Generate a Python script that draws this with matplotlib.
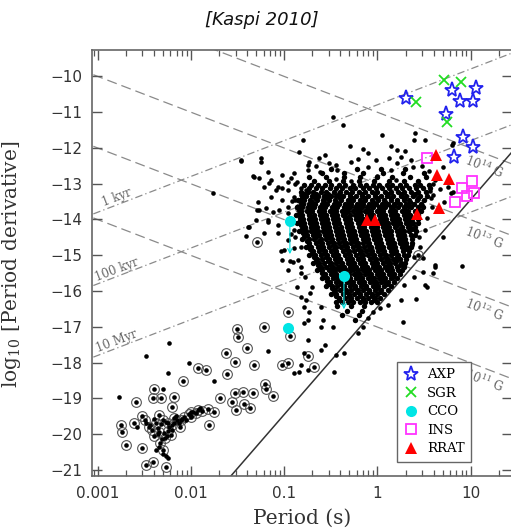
import numpy as np
import matplotlib.pyplot as plt
from matplotlib.ticker import LogLocator, NullFormatter, FixedLocator, FuncFormatter

# ---- values: log10 P [s], log10 Pdot ----
AXP_LOGP = [0.31, 0.80, 1.06, 0.89, 1.03, 0.74, 0.92, 1.02, 0.82]
AXP_LOGPDOT = [-10.61, -10.39, -10.34, -10.70, -10.70, -11.06, -11.70, -11.98, -12.26]

SGR_LOGP = [0.71, 0.90, 0.41, 0.75]
SGR_LOGPDOT = [-10.11, -10.17, -10.73, -11.28]

CCO_LOGP = [-0.94, -0.36, -0.96]
CCO_LOGPDOT = [-14.05, -15.59, -17.04]
CCO_UPPER = [True, True, False]

INS_LOGP = [0.53, 1.01, 0.91, 0.96, 1.04, 0.83]
INS_LOGPDOT = [-12.29, -12.93, -13.13, -13.35, -13.27, -13.52]

RRAT_LOGP = [0.63, 0.64, 0.77, 0.66, 0.42, -0.11, -0.03]
RRAT_LOGPDOT = [-12.21, -12.77, -12.88, -13.69, -13.85, -14.02, -14.02]

# dense body of radio pulsars, one row per log Pdot: "logPdot: logP logP ..."
CORE_ROWS = """
-12.60: -.50 -.22 .04 .30
-12.71: -.60 -.36 -.15 .06 .27 .50
-12.81: -.74 -.55 -.36 -.19 -.01 .16 .35 .52
-12.92: -.68 -.52 -.37 -.20 -.04 .12 .28 .43
-13.03: -.79 -.71 -.64 -.56 -.50 -.41 -.35 -.26 -.19 -.12 -.05 .02 .10 .16 .24 .31 .40 .46 .55
-13.13: -.74 -.66 -.59 -.51 -.45 -.38 -.30 -.24 -.16 -.09 -.02 .05 .12 .20 .26 .34 .41 .49 .56
-13.24: -.82 -.75 -.69 -.61 -.55 -.47 -.40 -.34 -.27 -.20 -.13 -.06 .00 .08 .14 .22 .29 .36 .43 .52
-13.29: -.79 -.66 -.53 -.41 -.30 -.17 -.03 .11 .25 .40
-13.35: -.77 -.70 -.64 -.57 -.50 -.44 -.37 -.30 -.23 -.17 -.10 -.03 .04 .10 .17 .25 .31 .38 .46 .53
-13.40: -.81 -.67 -.54 -.40 -.27 -.13 .00 .14 .28 .44
-13.45: -.85 -.79 -.72 -.65 -.58 -.52 -.46 -.39 -.32 -.26 -.19 -.13 -.06 .01 .07 .14 .21 .28 .34 .42 .50
-13.51: -.82 -.70 -.57 -.44 -.31 -.18 -.05 .08 .21 .35
-13.56: -.80 -.74 -.67 -.60 -.54 -.47 -.41 -.35 -.28 -.22 -.15 -.09 -.02 .05 .11 .18 .24 .31 .39 .47
-13.62: -.83 -.71 -.58 -.45 -.33 -.20 -.07 .05 .18 .33
-13.67: -.86 -.81 -.75 -.68 -.62 -.56 -.49 -.43 -.36 -.30 -.24 -.17 -.11 -.05 .02 .08 .15 .22 .28 .36 .44 .49
-13.73: -.84 -.73 -.60 -.48 -.35 -.22 -.10 .03 .16 .30 .43
-13.78: -.82 -.76 -.70 -.63 -.57 -.51 -.45 -.38 -.32 -.26 -.19 -.13 -.07 .00 .06 .13 .19 .26 .33 .40 .47
-13.84: -.84 -.73 -.60 -.48 -.35 -.22 -.08 .05 .17 .31
-13.89: -.87 -.81 -.74 -.68 -.62 -.55 -.49 -.43 -.37 -.30 -.24 -.18 -.11 -.05 .02 .08 .15 .21 .28 .35 .44
-13.95: -.83 -.70 -.58 -.45 -.33 -.20 -.07 .06 .19 .33
-14.00: -.80 -.73 -.67 -.61 -.54 -.48 -.42 -.35 -.29 -.23 -.16 -.10 -.04 .03 .09 .16 .23 .30 .37 .44
-14.06: -.83 -.70 -.57 -.44 -.31 -.19 -.06 .07 .20 .34
-14.11: -.86 -.79 -.72 -.66 -.60 -.53 -.47 -.41 -.34 -.28 -.21 -.15 -.09 -.02 .04 .11 .17 .24 .31 .38 .43
-14.17: -.82 -.69 -.56 -.44 -.31 -.18 -.05 .08 .21 .35
-14.22: -.78 -.71 -.65 -.58 -.52 -.46 -.39 -.33 -.27 -.20 -.14 -.07 -.01 .06 .12 .19 .26 .33 .40
-14.28: -.81 -.68 -.55 -.42 -.29 -.16 -.04 .10 .24 .37
-14.33: -.84 -.77 -.71 -.64 -.58 -.51 -.45 -.38 -.32 -.25 -.19 -.12 -.06 .01 .07 .14 .21 .28 .34 .41
-14.39: -.80 -.67 -.54 -.41 -.28 -.15 -.02 .11 .25
-14.44: -.76 -.69 -.63 -.56 -.50 -.43 -.37 -.31 -.24 -.18 -.11 -.05 .02 .08 .15 .22 .29 .36 .40
-14.50: -.79 -.66 -.52 -.39 -.26 -.13 .00 .12 .26
-14.55: -.81 -.74 -.68 -.61 -.55 -.49 -.42 -.36 -.29 -.23 -.16 -.10 -.04 .03 .10 .16 .23 .30 .37
-14.61: -.76 -.63 -.50 -.37 -.25 -.12 .01 .14 .27
-14.66: -.73 -.66 -.60 -.53 -.47 -.41 -.34 -.28 -.21 -.15 -.09 -.02 .04 .11 .18 .24 .31 .37
-14.72: -.74 -.61 -.48 -.36 -.23 -.10 .03 .15 .29
-14.77: -.77 -.71 -.64 -.58 -.52 -.45 -.39 -.33 -.26 -.20 -.14 -.07 -.01 .06 .12 .19 .26 .32 .36
-14.83: -.72 -.59 -.47 -.34 -.21 -.09 .04 .17 .30
-14.88: -.69 -.63 -.56 -.50 -.44 -.37 -.31 -.25 -.18 -.12 -.06 .01 .07 .14 .20 .27 .34
-14.94: -.70 -.57 -.45 -.32 -.19 -.07 .06 .18
-14.99: -.73 -.67 -.61 -.54 -.48 -.42 -.35 -.29 -.23 -.16 -.10 -.04 .03 .09 .15 .22 .28 .33
-15.05: -.68 -.55 -.43 -.30 -.18 -.05 .08 .21
-15.10: -.65 -.59 -.52 -.46 -.40 -.33 -.27 -.21 -.15 -.08 -.02 .04 .11 .17 .24 .31
-15.16: -.66 -.53 -.41 -.29 -.16 -.03 .09 .20
-15.21: -.69 -.63 -.57 -.50 -.44 -.38 -.32 -.25 -.19 -.13 -.06 .00 .06 .13 .19 .25 .30
-15.27: -.64 -.51 -.39 -.27 -.14 -.02 .11 .24
-15.32: -.61 -.55 -.48 -.42 -.36 -.30 -.23 -.17 -.11 -.05 .02 .08 .14 .21 .28
-15.38: -.62 -.49 -.37 -.25 -.12 .01 .13
-15.43: -.65 -.59 -.52 -.46 -.40 -.34 -.28 -.21 -.15 -.09 -.03 .04 .10 .16 .22 .26
-15.49: -.59 -.47 -.35 -.22 -.10 .03 .15
-15.54: -.56 -.50 -.44 -.38 -.31 -.25 -.19 -.13 -.07 .00 .06 .12 .18 .24
-15.60: -.57 -.44 -.32 -.20 -.07 .05 .17
-15.65: -.60 -.54 -.48 -.41 -.35 -.29 -.23 -.17 -.10 -.04 .02 .08 .14 .21
-15.71: -.54 -.42 -.30 -.17 -.05 .07
-15.76: -.51 -.45 -.39 -.33 -.26 -.20 -.14 -.08 -.02 .04 .11 .18
-15.82: -.52 -.39 -.27 -.15 -.02 .10
-15.87: -.55 -.49 -.43 -.36 -.30 -.24 -.18 -.12 -.05 .01 .07 .15
-15.93: -.49 -.37 -.24 -.12 .00
-15.98: -.46 -.40 -.34 -.28 -.21 -.15 -.09 -.03 .04 .11
-16.04: -.47 -.34 -.22 -.09 .03
-16.09: -.50 -.44 -.37 -.31 -.25 -.19 -.12 -.06 .00 .07
-16.15: -.44 -.31 -.19 -.06
-16.20: -.41 -.35 -.28 -.22 -.16 -.10 -.03 .03
-16.26: -.41 -.29 -.16 -.04
-16.31: -.45 -.38 -.32 -.26 -.19 -.13 -.07 -.01
-16.43: -.43 -.28 -.14
-16.55: -.33 -.17
-16.68: -.38 -.20
-16.82: -.24
"""

# scattered isolated pulsars: "logP,logPdot"
FIELD_PAIRS = """
-.48,-11.15 -.37,-11.37 .05,-11.65 .51,-11.79 .81,-11.87 -.80,-11.79 -.10,-12.15 -.21,-12.32
-.63,-12.29 -.75,-12.49 -.52,-12.43 .21,-12.43 -.84,-12.12 -1.47,-12.35 -1.25,-12.29 -1.76,-13.27
-1.29,-13.74 .30,-12.10 .60,-12.30 .70,-12.55 .40,-11.60 .15,-11.95 -.30,-11.95
.21,-12.07 .39,-11.79 .80,-11.93 .81,-13.24 .76,-13.10 .60,-13.32 .53,-13.97 .59,-13.66 .79,-13.27
.71,-13.52 .57,-13.41 .51,-14.30 .46,-14.78 .39,-15.06 .49,-15.47 .39,-15.61 .28,-15.84 .41,-16.23
.25,-16.26 .91,-15.31 .60,-15.50 .70,-14.50 .37,-14.72 .49,-15.08 .28,-15.28 .53,-15.89 .62,-15.28
.27,-16.87 .51,-15.84 .62,-15.34 -.36,-17.74 -.21,-17.18 -.16,-17.01 -.10,-16.76 -.05,-16.59
.03,-16.48 .11,-16.40 -.77,-16.26 -.61,-17.01 -.75,-17.37 -.56,-17.51 -.86,-15.89 -.82,-16.17
-.79,-16.45 -.72,-16.06 -.61,-16.45 -.75,-16.82 -.58,-16.82 -.48,-17.01 -.82,-15.50 -1.02,-15.14
-.91,-15.20 -.96,-15.42 -.82,-15.34 -1.07,-14.39 -.96,-14.58 -.88,-14.50 -.82,-14.78 -1.30,-14.02
-1.17,-14.02 -1.38,-14.22 -1.28,-13.52 -1.20,-13.69 -1.12,-13.80 -1.06,-13.74 -.96,-13.66
-.88,-13.46 -.82,-13.32 -.77,-13.18 -1.34,-12.79 -1.27,-12.85 -1.18,-12.68 -1.16,-12.99
-1.09,-13.18 -1.02,-13.13 -.96,-12.96 -1.47,-12.37 -1.25,-12.40 -1.33,-12.82 -1.14,-12.91
-1.02,-12.77 -.93,-12.85 -1.22,-13.10 -1.07,-13.10 -.96,-13.18 -1.14,-13.38 -1.02,-13.46
-.90,-13.38 -.82,-13.13 -.96,-13.83 -.86,-13.66 -1.18,-14.08 -1.07,-14.16 -1.22,-14.39
-.90,-14.30 -1.39,-14.22 -1.27,-13.74 -.75,-12.63 -.74,-12.40 -1.41,-14.47 -1.04,-14.89
-.94,-15.17 -.82,-18.07 -.84,-18.27 -.79,-17.74 -.75,-18.21 -.90,-18.30 -.47,-18.27 -.61,-17.65
-.45,-17.79 -.79,-16.90 -.74,-16.60 -2.24,-17.46 -2.48,-17.82 -2.02,-18.02 -2.25,-18.30
-1.75,-18.52 -2.77,-18.97 -2.30,-18.74 -2.25,-20.67 -1.18,-17.68 -1.00,-14.86
-.66,-12.52 -.44,-12.48 -.28,-12.40 -.02,-12.35 .12,-12.28 .36,-12.33 .48,-12.50 -.56,-12.20
-.16,-12.05 .25,-12.25 .55,-12.65 .62,-12.90 .67,-13.15 -.90,-12.70 -.88,-13.00 -.92,-13.50
-.94,-13.95 -.93,-14.40 -.90,-14.80 -.85,-15.15 -.78,-15.60 -.70,-15.90 .40,-13.80 .48,-13.60
.56,-13.20 .45,-14.50 -.62,-12.68 -.43,-12.62 -.10,-12.55 .14,-12.62 .38,-12.55 -.86,-12.95
.60,-13.00 -.28,-12.92 .20,-12.90 -.45,-12.88 .00,-12.80
-2.44,-19.75 -2.36,-19.82 -2.32,-19.72 -2.27,-19.66 -2.24,-19.80 -2.18,-19.68 -2.13,-19.70
-2.10,-19.58 -2.05,-19.62 -2.00,-19.50 -2.36,-20.00 -2.31,-20.15 -2.29,-19.98 -2.26,-20.06
-2.35,-20.35 -2.30,-20.55 -2.27,-20.62 -2.38,-20.45 -2.21,-19.88 -2.48,-19.70 -2.58,-19.80
-2.16,-19.50 -1.98,-19.38 -1.91,-19.28 -2.40,-19.58
"""

# binary pulsars (circled)
BINARY_PAIRS = """
-1.29,-14.64 -.96,-16.59 -1.51,-17.07 -1.50,-17.29 -1.22,-17.01 -.94,-17.26 -1.40,-17.60
-1.63,-17.74 -1.53,-17.99 -1.33,-18.07 -1.02,-18.07 -.96,-18.02 -1.93,-18.16 -1.84,-18.21
-1.61,-18.32 -2.09,-18.52 -1.21,-18.60 -2.40,-18.74 -2.41,-18.99 -2.32,-18.99 -2.18,-18.97
-2.59,-19.11 -2.20,-19.25 -1.69,-18.99 -1.53,-18.85 -1.44,-18.83 -1.34,-18.85 -1.12,-18.94
-1.20,-18.74 -1.56,-19.11 -1.43,-19.16 -1.52,-19.33 -1.37,-19.27 -1.75,-19.39 -2.53,-19.50
-2.35,-19.47 -2.00,-19.39 -1.93,-19.33 -1.81,-19.75 -2.75,-19.75 -2.61,-19.69 -2.74,-19.94
-2.70,-20.31 -2.53,-20.39 -2.30,-20.45 -2.48,-20.87 -2.27,-20.92 -2.41,-20.78 -2.25,-19.69
-2.18,-19.55 -2.11,-19.61 -2.00,-19.53 -2.45,-19.80 -2.38,-19.70 -2.30,-19.62 -2.25,-19.90
-2.20,-19.75 -2.15,-19.60 -2.08,-19.52 -2.02,-19.45 -1.95,-19.42 -2.34,-19.95 -2.28,-20.10
-2.40,-20.05 -2.33,-20.25 -2.22,-20.02 -2.12,-19.80 -1.88,-19.35 -1.82,-19.30 -2.50,-19.60
-2.42,-19.88 -.75,-17.82 -.68,-18.13 .43,-15.00 -.83,-13.69
"""

AGE_YR = [1e3, 1e5, 1e7]
AGE_LABELS = ['1 kyr', '100 kyr', '10 Myr']
B_GAUSS = [1e11, 1e12, 1e13, 1e14]
B_LABELS = [r'$10^{11}$ G', r'$10^{12}$ G', r'$10^{13}$ G', r'$10^{14}$ G']
DEATH_SLOPE = 3.0
DEATH_ICPT = -16.45

XTICKS = [0.001, 0.01, 0.1, 1, 10]
YTICKS = list(range(-21, -9))


def parse_pairs(text):
    pts = [tok.split(',') for tok in text.split()]
    return np.array([[float(a), float(b)] for a, b in pts])


def parse_rows(text):
    out = []
    for line in text.strip().splitlines():
        d, ps = line.split(':')
        for p in ps.split():
            out.append([float(p), float(d)])
    return np.array(out)


core = parse_rows(CORE_ROWS)
field = parse_pairs(FIELD_PAIRS)
binary = parse_pairs(BINARY_PAIRS)

plt.rcParams['font.family'] = 'DejaVu Sans'
plt.rcParams['mathtext.fontset'] = 'dejavuserif'

fig = plt.figure(figsize=(5.11, 5.31), dpi=100)
ax = fig.add_axes([0.180, 0.1036, 0.822, 0.8023])
ax.set_xscale('log')
ax.set_xlim(10 ** -3.064, 10 ** 1.444)
ax.set_ylim(-21.17, -9.27)

yr = 3.156e7
p = np.logspace(-3.5, 2, 100)
lgray = '#8a8a8a'
ang = np.degrees(np.arctan(35.8 / 93.3))

# characteristic age lines
for tau, lab in zip(AGE_YR, AGE_LABELS):
    ax.plot(p, np.log10(p / (2 * tau * yr)), color=lgray, lw=0.9,
            dashes=(6, 2.5, 1, 2.5), zorder=1)
    lp = -2.80
    ax.text(10 ** lp, lp - np.log10(2 * tau * yr) + 0.2, lab, family='DejaVu Serif',
            fontsize=8.5, color='#666666', rotation=ang, ha='center', va='center',
            rotation_mode='anchor')

# constant dipole field lines
for b, lab in zip(B_GAUSS, B_LABELS):
    ax.plot(p, 2 * np.log10(b / 3.2e19) - np.log10(p), color=lgray, lw=0.9,
            dashes=(8, 4), zorder=1)
    lp = 0.98
    ax.text(10 ** lp, 2 * np.log10(b / 3.2e19) - lp - 0.12, lab, family='DejaVu Serif',
            fontsize=8.5, color='#666666', rotation=-ang, ha='left', va='top',
            rotation_mode='anchor')

# death line
ax.plot(p, DEATH_SLOPE * np.log10(p) + DEATH_ICPT, color='#333333', lw=1.1, zorder=2)

# pulsars
ax.plot(10 ** binary[:, 0], binary[:, 1], 'o', ms=7, mfc='none', mec='#555555',
        mew=0.8, zorder=3)
ax.plot(10 ** core[:, 0], core[:, 1], 'o', ms=3.9, color='k', mew=0, zorder=3)
for arr in (field, binary):
    ax.plot(10 ** arr[:, 0], arr[:, 1], 'o', ms=3.3, color='k', mew=0, zorder=3)

# special classes
ax.plot(10 ** np.array(AXP_LOGP), AXP_LOGPDOT, '*', ms=11, mfc='none', mec='#2222ee',
        mew=1.3, ls='none', zorder=5, label='AXP')
ax.plot(10 ** np.array(SGR_LOGP), SGR_LOGPDOT, 'x', ms=7, color='#22dd22',
        mew=1.3, ls='none', zorder=5, label='SGR')
for lp, ld, up in zip(CCO_LOGP, CCO_LOGPDOT, CCO_UPPER):
    if up:
        ax.annotate('', xy=(10 ** lp, ld - 1.0), xytext=(10 ** lp, ld),
                    arrowprops=dict(arrowstyle='->', color='#00e0e0', lw=0.8,
                                    mutation_scale=8), zorder=4)
ax.plot(10 ** np.array(CCO_LOGP), CCO_LOGPDOT, 'o', ms=8, color='#00e5e5',
        mew=0, ls='none', zorder=5, label='CCO')
ax.plot(10 ** np.array(INS_LOGP), INS_LOGPDOT, 's', ms=7, mfc='none', mec='#ff33ff',
        mew=1.3, ls='none', zorder=5, label='INS')
ax.plot(10 ** np.array(RRAT_LOGP), RRAT_LOGPDOT, '^', ms=8, color='#ff0000',
        mew=0, ls='none', zorder=5, label='RRAT')

leg = ax.legend(loc='lower left', bbox_to_anchor=(0.725, 0.033),
                prop={'family': 'DejaVu Serif', 'size': 9.5}, fancybox=False,
                edgecolor='#666666', framealpha=1, borderpad=0.5, handlelength=1.2,
                handletextpad=0.6, labelspacing=0.42, borderaxespad=0)
leg.get_frame().set_linewidth(1.0)

# axes styling
ax.xaxis.set_major_locator(FixedLocator(XTICKS))
ax.xaxis.set_major_formatter(FuncFormatter(lambda v, pos: '%g' % v))
ax.xaxis.set_minor_locator(LogLocator(base=10, subs=np.arange(2, 10)))
ax.xaxis.set_minor_formatter(NullFormatter())
ax.yaxis.set_major_locator(FixedLocator(YTICKS))
ax.tick_params(which='both', direction='in', top=True, right=True, color='#555555',
               labelcolor='#333333', labelsize=11)
ax.tick_params(which='major', length=7.5, width=1.0, pad=7)
ax.tick_params(which='minor', length=4, width=0.9)
for s in ax.spines.values():
    s.set_color('#666666')
    s.set_linewidth(1.2)

ax.set_xlabel('Period (s)', family='DejaVu Serif', fontsize=14.5, color='#333333')
ax.set_ylabel(r'log$_{10}$ [Period derivative]', family='DejaVu Serif', fontsize=14.5,
              color='#333333')
ax.xaxis.set_label_coords(0.5, -0.078)
ax.yaxis.set_label_coords(-0.164, 0.498)

fig.text(0.513, 0.962, '[Kaspi 2010]', fontsize=13, style='italic', ha='center',
         va='center', color='#111111')

fig.savefig('out.png', dpi=100)
